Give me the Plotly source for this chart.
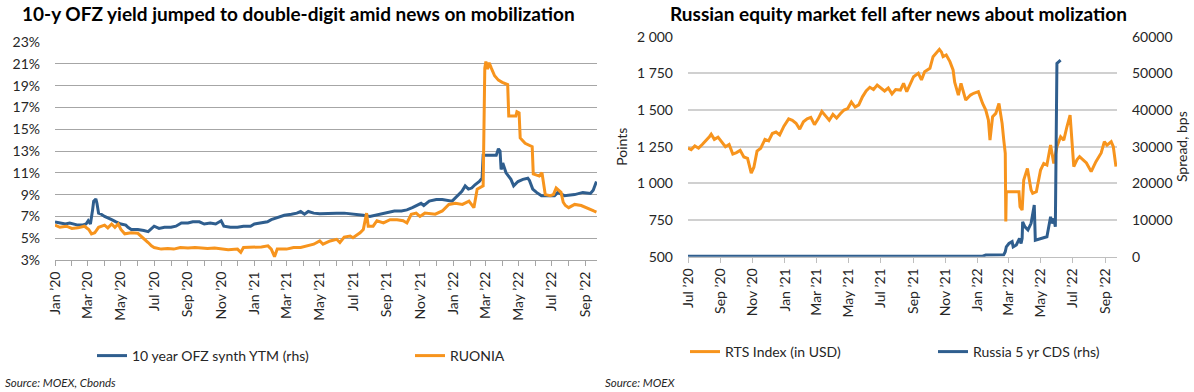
import plotly.graph_objects as go

# ---------------- Left chart data ----------------
ofz_dates = [
    "2020-01-01", "2020-01-10", "2020-01-20", "2020-01-28", "2020-02-05", "2020-02-12", "2020-02-20", "2020-02-27",
    "2020-03-02", "2020-03-06", "2020-03-10", "2020-03-12", "2020-03-16", "2020-03-18", "2020-03-21", "2020-03-26",
    "2020-04-01", "2020-04-08", "2020-04-14", "2020-04-22", "2020-05-01", "2020-05-10", "2020-05-14", "2020-05-20",
    "2020-06-01", "2020-06-12", "2020-06-20", "2020-07-01", "2020-07-10", "2020-07-20", "2020-08-01", "2020-08-10",
    "2020-08-20", "2020-09-01", "2020-09-10", "2020-09-22", "2020-10-01", "2020-10-12", "2020-10-22", "2020-11-01",
    "2020-11-06", "2020-11-18", "2020-12-01", "2020-12-12", "2020-12-25", "2021-01-01", "2021-01-12", "2021-01-25",
    "2021-02-01", "2021-02-12", "2021-02-25", "2021-03-10", "2021-03-20", "2021-03-27", "2021-04-03", "2021-04-10",
    "2021-04-20", "2021-05-01", "2021-05-15", "2021-06-01", "2021-06-15", "2021-06-25", "2021-07-10", "2021-07-20",
    "2021-08-01", "2021-08-10", "2021-08-25", "2021-09-05", "2021-09-15", "2021-09-28", "2021-10-08", "2021-10-18",
    "2021-10-28", "2021-11-03", "2021-11-08", "2021-11-18", "2021-12-01", "2021-12-12", "2021-12-30", "2022-01-08",
    "2022-01-17", "2022-01-23", "2022-01-29", "2022-02-04", "2022-02-10", "2022-02-18", "2022-02-23", "2022-02-25",
    "2022-03-21", "2022-03-25", "2022-03-28", "2022-03-30", "2022-04-02", "2022-04-08", "2022-04-17", "2022-04-22",
    "2022-04-30", "2022-05-09", "2022-05-18", "2022-05-21", "2022-05-27", "2022-06-03", "2022-06-12", "2022-07-06",
    "2022-07-12", "2022-07-24", "2022-08-12", "2022-08-27", "2022-09-10", "2022-09-15", "2022-09-21",
]
ofz_vals = [
    6.5, 6.4, 6.3, 6.4, 6.3, 6.2, 6.2, 6.3,
    6.6, 6.3, 7.6, 8.4, 8.6, 8.2, 7.3, 7.2,
    7.0, 6.8, 6.7, 6.5, 6.3, 6.2, 6.0, 5.8,
    5.8, 5.7, 5.6, 6.1, 5.9, 6.0, 6.0, 6.1,
    6.4, 6.4, 6.5, 6.5, 6.3, 6.4, 6.3, 6.6,
    6.1, 6.0, 6.0, 6.1, 6.1, 6.3, 6.4, 6.5,
    6.7, 6.9, 7.1, 7.2, 7.3, 7.45, 7.2, 7.45,
    7.3, 7.25, 7.3, 7.3, 7.3, 7.25, 7.2, 7.1,
    7.0, 7.1, 7.2, 7.35, 7.5, 7.5, 7.6, 7.8,
    8.1, 8.2, 8.0, 8.4, 8.55, 8.55, 8.4, 8.9,
    9.3, 9.8, 9.5, 9.6, 9.9, 10.2, 10.5, 12.6,
    12.6, 13.2, 13.0, 11.3, 11.9, 11.0, 10.4, 9.8,
    10.2, 10.4, 10.5, 10.3, 9.5, 9.2, 8.9, 8.9,
    9.2, 8.9, 9.0, 9.2, 9.1, 9.4, 10.2,
]

ruonia_dates = [
    "2020-01-01", "2020-01-10", "2020-01-22", "2020-02-01", "2020-02-12", "2020-02-24", "2020-03-03", "2020-03-08",
    "2020-03-14", "2020-03-21", "2020-04-01", "2020-04-07", "2020-04-14", "2020-04-20", "2020-04-26", "2020-05-01",
    "2020-05-08", "2020-05-20", "2020-06-01", "2020-06-07", "2020-06-20", "2020-06-26", "2020-07-01", "2020-07-14",
    "2020-07-26", "2020-08-06", "2020-08-18", "2020-09-01", "2020-09-14", "2020-09-26", "2020-10-07", "2020-10-20",
    "2020-11-01", "2020-11-14", "2020-12-01", "2020-12-07", "2020-12-12", "2021-01-01", "2021-01-14", "2021-01-26",
    "2021-02-01", "2021-02-07", "2021-02-12", "2021-03-01", "2021-03-14", "2021-03-27", "2021-04-07", "2021-04-20",
    "2021-05-01", "2021-05-07", "2021-05-20", "2021-06-01", "2021-06-07", "2021-06-15", "2021-06-26", "2021-07-01",
    "2021-07-14", "2021-07-20", "2021-07-26", "2021-07-29", "2021-08-07", "2021-08-14", "2021-08-26", "2021-09-07",
    "2021-09-20", "2021-10-01", "2021-10-08", "2021-10-16", "2021-10-25", "2021-11-01", "2021-11-10", "2021-11-29",
    "2021-12-12", "2021-12-24", "2022-01-05", "2022-01-18", "2022-01-30", "2022-02-08", "2022-02-14", "2022-02-25",
    "2022-02-28", "2022-03-02", "2022-03-05", "2022-03-08", "2022-03-12", "2022-03-18", "2022-03-25", "2022-04-01",
    "2022-04-11", "2022-04-13", "2022-04-26", "2022-04-28", "2022-05-02", "2022-05-04", "2022-05-13", "2022-05-26",
    "2022-05-28", "2022-06-08", "2022-06-13", "2022-06-16", "2022-06-19", "2022-06-28", "2022-07-04", "2022-07-09",
    "2022-07-18", "2022-07-22", "2022-07-26", "2022-08-01", "2022-08-12", "2022-08-24", "2022-09-05", "2022-09-16",
    "2022-09-21",
]
ruonia_vals = [
    6.2, 6.0, 6.1, 5.9, 5.95, 6.1, 5.8, 5.4,
    5.5, 6.0, 6.2, 5.95, 6.3, 6.0, 6.3, 5.8,
    5.4, 5.5, 5.45, 5.2, 4.6, 4.3, 4.15, 4.0,
    4.05, 4.0, 4.15, 4.1, 4.15, 4.1, 4.05, 4.1,
    4.0, 3.95, 4.0, 3.7, 4.15, 4.15, 4.2, 4.3,
    4.0, 3.3, 4.0, 4.0, 4.15, 4.15, 4.3, 4.45,
    4.75, 4.45, 4.75, 4.9, 4.6, 5.1, 5.2, 5.05,
    5.5, 5.8, 7.3, 6.1, 6.1, 6.6, 6.4, 6.7,
    6.7, 6.6, 6.4, 7.2, 7.3, 7.0, 7.3, 7.2,
    7.5, 8.1, 8.2, 8.1, 8.4, 7.8, 9.5, 9.8,
    20.6, 21.2, 20.5, 21.1, 20.6, 19.9, 19.5, 19.3,
    19.1, 16.2, 16.2, 16.6, 16.5, 14.2, 13.7, 13.4,
    10.9, 10.7, 11.0, 10.1, 9.0, 8.9, 9.0, 9.6,
    9.2, 8.3, 8.0, 7.8, 8.1, 8.0, 7.7, 7.5,
    7.4,
]

left_y_ticks = [3, 5, 7, 9, 11, 13, 15, 17, 19, 21, 23]
left_y_labels = ["3%", "5%", "7%", "9%", "11%", "13%", "15%", "17%", "19%", "21%", "23%"]
left_x_ticks = ["2020-01-01", "2020-03-01", "2020-05-01", "2020-07-01", "2020-09-01", "2020-11-01",
                "2021-01-01", "2021-03-01", "2021-05-01", "2021-07-01", "2021-09-01", "2021-11-01",
                "2022-01-01", "2022-03-01", "2022-05-01", "2022-07-01", "2022-09-01"]
left_x_labels = ["Jan \u201920", "Mar \u201920", "May \u201920", "Jul \u201920", "Sep \u201920", "Nov \u201920",
                 "Jan \u201921", "Mar \u201921", "May \u201921", "Jul \u201921", "Sep \u201921", "Nov \u201921",
                 "Jan \u201922", "Mar \u201922", "May \u201922", "Jul \u201922", "Sep \u201922"]

# ---------------- Right chart data ----------------
rts_dates = [
    "2020-07-01", "2020-07-07", "2020-07-14", "2020-07-21", "2020-07-28", "2020-08-04", "2020-08-11", "2020-08-14",
    "2020-08-20", "2020-08-27", "2020-09-03", "2020-09-10", "2020-09-17", "2020-09-24", "2020-10-01", "2020-10-08",
    "2020-10-15", "2020-10-22", "2020-10-29", "2020-11-03", "2020-11-09", "2020-11-16", "2020-11-24", "2020-12-01",
    "2020-12-08", "2020-12-15", "2020-12-22", "2020-12-30", "2021-01-08", "2021-01-15", "2021-01-22", "2021-01-29",
    "2021-02-05", "2021-02-12", "2021-02-19", "2021-02-26", "2021-03-05", "2021-03-12", "2021-03-19", "2021-03-26",
    "2021-04-02", "2021-04-09", "2021-04-16", "2021-04-23", "2021-04-30", "2021-05-07", "2021-05-14", "2021-05-21",
    "2021-05-28", "2021-06-04", "2021-06-11", "2021-06-18", "2021-06-25", "2021-07-02", "2021-07-09", "2021-07-16",
    "2021-07-23", "2021-07-30", "2021-08-08", "2021-08-14", "2021-08-20", "2021-08-27", "2021-09-02", "2021-09-11",
    "2021-09-17", "2021-09-23", "2021-10-03", "2021-10-09", "2021-10-15", "2021-10-21", "2021-10-25", "2021-10-28",
    "2021-11-03", "2021-11-10", "2021-11-16", "2021-11-19", "2021-11-26", "2021-12-01", "2021-12-10", "2021-12-19",
    "2021-12-25", "2022-01-03", "2022-01-11", "2022-01-17", "2022-01-22", "2022-01-25", "2022-01-30", "2022-02-05",
    "2022-02-11", "2022-02-14", "2022-02-17", "2022-02-20", "2022-02-23", "2022-02-24", "2022-02-25", "2022-03-21",
    "2022-03-23", "2022-03-27", "2022-03-30", "2022-04-06", "2022-04-13", "2022-04-16", "2022-04-23", "2022-05-01",
    "2022-05-07", "2022-05-13", "2022-05-20", "2022-05-26", "2022-06-01", "2022-06-08", "2022-06-14", "2022-06-20",
    "2022-06-26", "2022-07-03", "2022-07-09", "2022-07-14", "2022-07-27", "2022-08-05", "2022-08-14", "2022-08-24",
    "2022-08-30", "2022-09-04", "2022-09-12", "2022-09-16", "2022-09-21",
]
rts_vals = [
    1240, 1230, 1255, 1240, 1265, 1290, 1320, 1335,
    1300, 1315, 1280, 1250, 1265, 1200, 1210, 1225,
    1180, 1170, 1070, 1110, 1220, 1240, 1300, 1290,
    1340, 1350, 1330, 1390, 1440, 1430, 1410, 1370,
    1420, 1440, 1450, 1400, 1440, 1490, 1460, 1430,
    1470, 1445, 1475, 1500, 1510, 1555, 1520, 1535,
    1590, 1630, 1655, 1640, 1670, 1650, 1630, 1650,
    1610, 1640, 1636, 1682, 1625, 1680, 1727, 1750,
    1705, 1761, 1784, 1864, 1886, 1914, 1895, 1864,
    1875, 1830, 1773, 1690, 1602, 1682, 1568, 1602,
    1614, 1625, 1545, 1500, 1432, 1295, 1455, 1477,
    1545, 1477, 1409, 1300, 1205, 740, 943, 943,
    841, 818, 1023, 1102, 955, 932, 943, 1091,
    1136, 1125, 1261, 1136, 1250, 1318, 1295, 1386,
    1466, 1114, 1160, 1182, 1139, 1080, 1148, 1207,
    1284, 1261, 1284, 1250, 1114,
]

cds_dates = [
    "2020-07-01", "2021-01-01", "2021-07-01", "2022-01-11", "2022-01-17", "2022-02-20", "2022-02-23", "2022-02-25",
    "2022-03-02", "2022-03-08", "2022-03-10", "2022-03-16", "2022-03-22", "2022-03-25", "2022-03-27", "2022-03-28",
    "2022-04-01", "2022-04-07", "2022-04-13", "2022-04-19", "2022-04-21", "2022-05-01", "2022-05-13", "2022-05-20",
    "2022-05-22", "2022-05-26", "2022-05-29", "2022-06-01", "2022-06-08",
]
cds_vals = [
    150, 120, 100, 150, 450, 500, 1360, 2700,
    3600, 4100, 2700, 3200, 5000, 3600, 5000, 9500,
    8200, 7300, 9100, 14100, 4500, 5000, 5450, 10900,
    9100, 10400, 8200, 52700, 53600,
]

right_y_ticks = [500, 750, 1000, 1250, 1500, 1750, 2000]
right_y_labels = ["500", "750", "1 000", "1 250", "1 500", "1 750", "2 000"]
right_y2_ticks = [0, 10000, 20000, 30000, 40000, 50000, 60000]
right_x_ticks = ["2020-07-01", "2020-09-01", "2020-11-01", "2021-01-01", "2021-03-01", "2021-05-01",
                 "2021-07-01", "2021-09-01", "2021-11-01", "2022-01-01", "2022-03-01", "2022-05-01",
                 "2022-07-01", "2022-09-01"]
right_x_labels = ["Jul \u201920", "Sep \u201920", "Nov \u201920", "Jan \u201921", "Mar \u201921", "May \u201921",
                  "Jul \u201921", "Sep \u201921", "Nov \u201921", "Jan \u201922", "Mar \u201922", "May \u201922",
                  "Jul \u201922", "Sep \u201922"]

BLUE = "#2F5E8E"
ORANGE = "#F7941D"
FONT = "Lato"
TXT = "#262626"
W, H = 1194, 392

fig = go.Figure()

fig.add_trace(go.Scatter(x=ofz_dates, y=ofz_vals, mode="lines", name="10 year OFZ synth YTM (rhs)",
                         line=dict(color=BLUE, width=3), xaxis="x", yaxis="y", legend="legend2"))
fig.add_trace(go.Scatter(x=ruonia_dates, y=ruonia_vals, mode="lines", name="RUONIA",
                         line=dict(color=ORANGE, width=3), xaxis="x", yaxis="y", legend="legend3"))
fig.add_trace(go.Scatter(x=rts_dates, y=rts_vals, mode="lines", name="RTS Index (in USD)",
                         line=dict(color=ORANGE, width=3), xaxis="x2", yaxis="y2", legend="legend4"))
fig.add_trace(go.Scatter(x=cds_dates, y=cds_vals, mode="lines", name="Russia 5 yr CDS (rhs)",
                         line=dict(color=BLUE, width=3), xaxis="x2", yaxis="y3", legend="legend5"))


def px_x(v):
    return v / W


def px_y(v):
    return 1 - v / H


tickfont = dict(family=FONT, size=14, color=TXT)

fig.update_layout(
    width=W, height=H,
    margin=dict(l=0, r=0, t=0, b=0, autoexpand=False),
    paper_bgcolor="white", plot_bgcolor="white",
    font=dict(family=FONT, size=14, color=TXT),
    showlegend=True,
    xaxis=dict(domain=[px_x(55), px_x(597)], anchor="y", type="date", automargin=False,
               range=["2020-01-01", "2022-09-22"],
               tickmode="array", tickvals=left_x_ticks, ticktext=left_x_labels, tickangle=-90,
               ticks="outside", ticklen=5, tickcolor="#A6A6A6", tickfont=tickfont,
               minor=dict(ticks="outside", ticklen=5, tickcolor="#A6A6A6", dtick="M1",
                          tick0="2020-01-01", showgrid=False),
               showline=True, linecolor="#A6A6A6", linewidth=1, showgrid=False, zeroline=False),
    yaxis=dict(domain=[px_y(260), px_y(42)], anchor="x", range=[3, 23], automargin=False,
               tickmode="array", tickvals=left_y_ticks, ticktext=left_y_labels, tickfont=tickfont,
               showgrid=True, gridcolor="#A6A6A6", gridwidth=1, zeroline=False, ticks="",
               ticklabelstandoff=14),
    xaxis2=dict(domain=[px_x(688), px_x(1117)], anchor="y2", type="date", automargin=False,
                range=["2020-07-01", "2022-09-23"],
                tickmode="array", tickvals=right_x_ticks, ticktext=right_x_labels, tickangle=-90,
                ticks="outside", ticklen=5, tickcolor="#BFBFBF", tickfont=tickfont,
                showline=True, linecolor="#BFBFBF", linewidth=1, showgrid=False, zeroline=False),
    yaxis2=dict(domain=[px_y(256.7), px_y(36.7)], anchor="x2", range=[500, 2000], automargin=False,
                tickmode="array", tickvals=right_y_ticks, ticktext=right_y_labels, tickfont=tickfont,
                showgrid=True, gridcolor="#D0D0D0", gridwidth=1.5, zeroline=False, ticks="",
                ticklabelstandoff=14,
                title=dict(text="Points", font=dict(family=FONT, size=14, color=TXT), standoff=6)),
    yaxis3=dict(overlaying="y2", side="right", anchor="x2", range=[0, 60000], automargin=False,
                tickmode="array", tickvals=right_y2_ticks, tickformat="d", tickfont=tickfont,
                showgrid=False, zeroline=False, ticks="", ticklabelstandoff=14,
                title=dict(text="Spread, bps", font=dict(family=FONT, size=14, color=TXT), standoff=0)),
)

leg_common = dict(orientation="h", xanchor="left", yanchor="middle", bgcolor="rgba(0,0,0,0)",
                  font=dict(family=FONT, size=14, color=TXT), itemwidth=30)
fig.update_layout(
    legend2=dict(x=px_x(92), y=px_y(356), **leg_common),
    legend3=dict(x=px_x(410), y=px_y(356), **leg_common),
    legend4=dict(x=px_x(685), y=px_y(352), **leg_common),
    legend5=dict(x=px_x(933), y=px_y(352), **leg_common),
)

fig.add_annotation(text="<b>10-y OFZ yield jumped to double-digit amid news on mobilization</b>",
                   x=px_x(298), y=px_y(14), xref="paper", yref="paper", showarrow=False,
                   xanchor="center", yanchor="middle", font=dict(family=FONT, size=19, color="#000000"))
fig.add_annotation(text="<b>Russian equity market fell after news about molization</b>",
                   x=px_x(898), y=px_y(14), xref="paper", yref="paper", showarrow=False,
                   xanchor="center", yanchor="middle", font=dict(family=FONT, size=19, color="#000000"))
fig.add_annotation(text="<i>Source: MOEX, Cbonds</i>", x=px_x(3), y=px_y(382), xref="paper", yref="paper",
                   showarrow=False, xanchor="left", yanchor="middle", font=dict(family=FONT, size=11.5, color=TXT))
fig.add_annotation(text="<i>Source: MOEX</i>", x=px_x(603), y=px_y(382), xref="paper", yref="paper",
                   showarrow=False, xanchor="left", yanchor="middle", font=dict(family=FONT, size=11.5, color=TXT))

fig.write_html("out.html", config={"displayModeBar": False},
               post_script="document.body.style.margin='0px';document.body.style.overflow='hidden';")
